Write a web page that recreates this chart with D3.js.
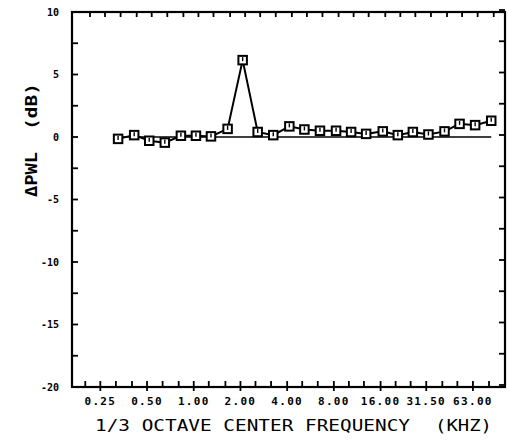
<!DOCTYPE html>
<html>
<head>
    <title>Delta PWL vs 1/3 octave frequency</title>
    <script src="https://d3js.org/d3.v7.min.js"></script>
    <style>
        body { margin: 0; background: #fff; }
        svg { display: block; }
        .tick-label { font-family: "DejaVu Sans Mono", monospace; font-weight: bold; fill: #000; }
        .title { font-family: "DejaVu Sans Mono", monospace; fill: #000; }
    </style>
</head>
<body>
<script>
    // 1/3 octave band centres (kHz) and the measured delta PWL (dB)
    const bandFreqs = [0.315, 0.4, 0.5, 0.63, 0.8, 1.0, 1.25, 1.6, 2.0, 2.5, 3.15, 4.0, 5.0,
        6.3, 8.0, 10, 12.5, 16, 20, 25, 31.5, 40, 50, 63, 80];
    const deltaPWL = [-0.15, 0.15, -0.3, -0.45, 0.1, 0.1, 0.05, 0.65, 6.15, 0.4, 0.15, 0.85, 0.6,
        0.5, 0.5, 0.4, 0.25, 0.45, 0.15, 0.4, 0.2, 0.45, 1.05, 0.95, 1.3];
    const zeroLine = [0, 0, 0, 0, 0, 0, 0, 0, 0, 0, 0, 0, 0, 0, 0, 0, 0, 0, 0, 0, 0, 0, 0, 0, 0];

    // axis ticks
    const tickFreqs = [0.2, 0.25, 0.315, 0.4, 0.5, 0.63, 0.8, 1.0, 1.25, 1.6, 2.0, 2.5, 3.15, 4.0, 5.0,
        6.3, 8.0, 10, 12.5, 16, 20, 25, 31.5, 40, 50, 63, 80];
    const majorFreqs = [0.25, 0.5, 1.0, 2.0, 4.0, 8.0, 16, 31.5, 63];
    const majorLabels = ["0.25", "0.50", "1.00", "2.00", "4.00", "8.00", "16.00", "31.50", "63.00"];
    const yTicks = [10, 7.5, 5, 2.5, 0, -2.5, -5, -7.5, -10, -12.5, -15, -17.5, -20];
    const yLabels = [10, 5, 0, -5, -10, -15, -20];

    const width = 509, height = 443;
    const plotLeft = 72, plotRight = 505, plotTop = 12, plotBottom = 387;

    const svg = d3.select("body").append("svg")
        .attr("width", width)
        .attr("height", height);

    // log frequency axis, one third-octave ~15.6 px
    const x = d3.scaleLog().base(2)
        .domain([0.25 * Math.pow(2, -1.96 / 3), 0.25 * Math.pow(2, 25.85 / 3)])
        .range([plotLeft, plotRight]);
    const y = d3.scaleLinear().domain([-20, 10]).range([plotBottom, plotTop]);

    // frame
    svg.append("rect")
        .attr("x", plotLeft).attr("y", plotTop)
        .attr("width", plotRight - plotLeft).attr("height", plotBottom - plotTop)
        .attr("fill", "none").attr("stroke", "#000").attr("stroke-width", 2.2);

    // bottom ticks (minor pointing in, major crossing the line)
    const bottomTicks = svg.append("g").attr("transform", "translate(-2.2,0)");
    bottomTicks.selectAll("line")
        .data(tickFreqs)
        .enter().append("line")
        .attr("x1", d => x(d)).attr("x2", d => x(d))
        .attr("y1", plotBottom - 6)
        .attr("y2", d => majorFreqs.includes(d) ? plotBottom + 4 : plotBottom)
        .attr("stroke", "#000").attr("stroke-width", 1.8);
    bottomTicks.selectAll("text")
        .data(majorFreqs)
        .enter().append("text")
        .attr("class", "tick-label")
        .attr("x", d => x(d))
        .attr("y", 405)
        .attr("text-anchor", "middle")
        .attr("font-size", 11)
        .attr("letter-spacing", 1.3)
        .text((d, i) => majorLabels[i]);

    // top ticks
    svg.append("g").attr("transform", "translate(2.5,0)")
        .selectAll("line")
        .data(tickFreqs)
        .enter().append("line")
        .attr("x1", d => x(d)).attr("x2", d => x(d))
        .attr("y1", plotTop).attr("y2", plotTop + 5)
        .attr("stroke", "#000").attr("stroke-width", 1.8);

    // left and right ticks
    svg.append("g").selectAll("line")
        .data(yTicks)
        .enter().append("line")
        .attr("x1", plotLeft).attr("x2", plotLeft + 6)
        .attr("y1", d => y(d)).attr("y2", d => y(d))
        .attr("stroke", "#000").attr("stroke-width", 1.8);
    svg.append("g").attr("transform", "translate(0,-2)")
        .selectAll("line")
        .data(yTicks)
        .enter().append("line")
        .attr("x1", plotRight - 6).attr("x2", plotRight)
        .attr("y1", d => y(d)).attr("y2", d => y(d))
        .attr("stroke", "#000").attr("stroke-width", 1.8);

    svg.append("g").selectAll("text")
        .data(yLabels)
        .enter().append("text")
        .attr("class", "tick-label")
        .attr("x", 59)
        .attr("y", d => y(d) + 3.5)
        .attr("text-anchor", "end")
        .attr("font-size", 10)
        .text(d => d);

    // axis titles (glyphs stretched like the plotter lettering)
    svg.append("text")
        .attr("class", "title")
        .attr("x", 95).attr("y", 431)
        .attr("font-size", 15)
        .attr("textLength", 315).attr("lengthAdjust", "spacingAndGlyphs")
        .text("1/3 OCTAVE CENTER FREQUENCY");
    svg.append("text")
        .attr("class", "title")
        .attr("x", 435).attr("y", 431)
        .attr("font-size", 15)
        .attr("textLength", 57).attr("lengthAdjust", "spacingAndGlyphs")
        .text("(KHZ)");

    svg.append("text")
        .attr("class", "title")
        .attr("font-weight", "bold")
        .attr("font-size", 15)
        .attr("transform", "translate(37,197) rotate(-90)")
        .attr("textLength", 45).attr("lengthAdjust", "spacingAndGlyphs")
        .text("\u0394PWL");
    svg.append("text")
        .attr("class", "title")
        .attr("font-weight", "bold")
        .attr("font-size", 15)
        .attr("transform", "translate(37,130) rotate(-90)")
        .attr("textLength", 47).attr("lengthAdjust", "spacingAndGlyphs")
        .text("(dB)");

    // zero reference line
    const line = d3.line()
        .x((d, i) => x(bandFreqs[i]))
        .y(d => y(d));

    svg.append("path")
        .attr("d", line(zeroLine))
        .attr("fill", "none").attr("stroke", "#000").attr("stroke-width", 1.4);

    // data line
    svg.append("path")
        .attr("d", line(deltaPWL))
        .attr("fill", "none").attr("stroke", "#000").attr("stroke-width", 2);

    // square markers
    const marks = svg.append("g").selectAll("g")
        .data(deltaPWL)
        .enter().append("g")
        .attr("transform", (d, i) => "translate(" + x(bandFreqs[i]) + "," + y(d) + ")");
    marks.append("rect")
        .attr("x", -4.25).attr("y", -4.25)
        .attr("width", 8.5).attr("height", 8.5)
        .attr("fill", "#fff").attr("stroke", "#000").attr("stroke-width", 2);
    marks.append("line")
        .attr("x1", 0).attr("x2", 0).attr("y1", -3).attr("y2", 1)
        .attr("stroke", "#000").attr("stroke-width", 1.4);
</script>
</body>
</html>
